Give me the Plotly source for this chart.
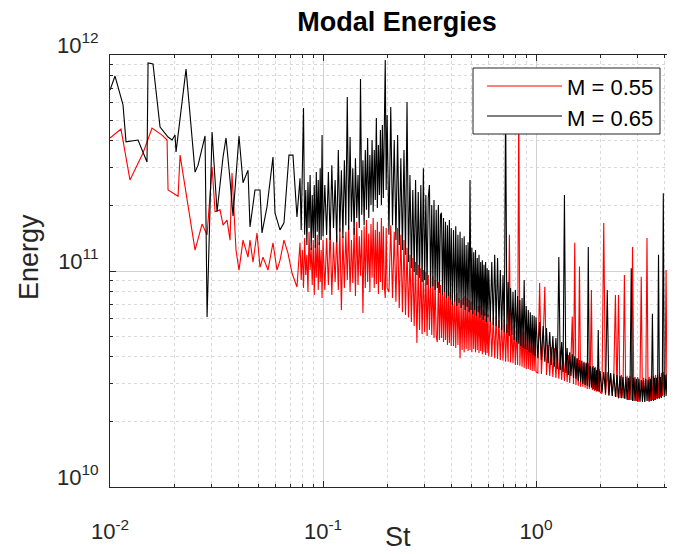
import plotly.graph_objects as go

# ---------------- data: St (Strouhal number) and modal energy in units of 1e10 ----------------
# low-frequency part, M = 0.55
st_low_055 = [0.01000, 0.01126, 0.01241, 0.01429, 0.01575, 0.01755, 0.01853, 0.01873, 0.02087, 0.02133,
              0.02508, 0.02705, 0.02856, 0.03014, 0.03114, 0.03286, 0.03394, 0.03543, 0.03661, 0.03739,
              0.03905, 0.04033, 0.04212, 0.04445, 0.04543, 0.04692, 0.04899, 0.05061, 0.05228, 0.05517,
              0.05823, 0.06081, 0.06282, 0.06559, 0.06848, 0.07152, 0.07547]
e_low_055 = [41.3, 45.4, 26.4, 35.2, 45.9, 42.6, 40.4, 23.7, 22.2, 34.4,
             12.5, 16.5, 14.7, 30.3, 18.8, 19.2, 16.3, 17.2, 13.9, 28.4,
             12.5, 10.1, 13.9, 11.6, 13.9, 11.0, 15.0, 10.4, 11.6, 10.1,
             13.5, 10.1, 11.2, 13.9, 12.1, 9.79, 8.43]

# low-frequency part, M = 0.65
st_low_065 = [0.01000, 0.01056, 0.01151, 0.01189, 0.01354, 0.01492, 0.01509, 0.01592, 0.01718, 0.01873,
              0.01956, 0.02020, 0.02042, 0.02275, 0.02508, 0.02591, 0.02794, 0.02856, 0.03014, 0.03182,
              0.03394, 0.03506, 0.03661, 0.03781, 0.04033, 0.04212, 0.04445, 0.04543, 0.04794, 0.05061,
              0.05171, 0.05458, 0.05823, 0.05950, 0.06282, 0.06559, 0.06922, 0.07228, 0.07547]
e_low_065 = [68.8, 79.9, 58.7, 39.6, 40.4, 31.96, 91.8, 90.9, 46.4, 41.7,
             40.4, 42.6, 35.6, 86.1, 28.7, 30.9, 42.2, 6.12, 44.0, 18.8,
             33.7, 41.3, 26.4, 18.0, 42.2, 25.6, 29.3, 16.0, 23.7, 23.7,
             15.0, 19.8, 33.7, 18.6, 15.5, 16.7, 34.4, 34.4, 17.8]

# dense part: St samples shared by both series, in seven blocks
st_a = [0.078, 0.079, 0.080, 0.081, 0.082, 0.083, 0.084, 0.085, 0.086, 0.087, 0.088, 0.089,
        0.090, 0.091, 0.092, 0.093, 0.094, 0.095, 0.096, 0.097, 0.098, 0.099, 0.100]
st_b = [0.102, 0.104, 0.106, 0.108, 0.110, 0.112, 0.114, 0.116, 0.118, 0.120,
        0.122, 0.124, 0.126, 0.128, 0.130, 0.132, 0.134, 0.136, 0.138, 0.140,
        0.142, 0.144, 0.146, 0.148, 0.150, 0.152, 0.154, 0.156, 0.158, 0.160,
        0.162, 0.164, 0.166, 0.168, 0.170, 0.172, 0.174, 0.176, 0.178, 0.180,
        0.182, 0.184, 0.186, 0.188, 0.190, 0.192, 0.194, 0.196, 0.198, 0.200]
st_c = [0.204, 0.208, 0.212, 0.216, 0.220, 0.224, 0.228, 0.232, 0.236, 0.240,
        0.244, 0.248, 0.252, 0.256, 0.260, 0.264, 0.268, 0.272, 0.276, 0.280,
        0.284, 0.288, 0.292, 0.296, 0.300, 0.304, 0.308, 0.312, 0.316, 0.320,
        0.324, 0.328, 0.332, 0.336, 0.340, 0.344, 0.348, 0.352, 0.356, 0.360,
        0.364, 0.368, 0.372, 0.376, 0.380, 0.384, 0.388, 0.392, 0.396, 0.400]
st_d = [0.405, 0.410, 0.415, 0.420, 0.425, 0.430, 0.435, 0.440, 0.445, 0.450,
        0.455, 0.460, 0.465, 0.470, 0.475, 0.480, 0.485, 0.490, 0.495, 0.500,
        0.505, 0.510, 0.515, 0.520, 0.525, 0.530, 0.535, 0.540, 0.545, 0.550,
        0.555, 0.560, 0.565, 0.570, 0.575, 0.580, 0.585, 0.590, 0.595, 0.600]
st_e = [0.61, 0.62, 0.63, 0.64, 0.65, 0.66, 0.67, 0.68, 0.69, 0.70,
        0.71, 0.72, 0.73, 0.74, 0.75, 0.76, 0.77, 0.78, 0.79, 0.80,
        0.81, 0.82, 0.83, 0.84, 0.85, 0.86, 0.87, 0.88, 0.89, 0.90,
        0.91, 0.92, 0.93, 0.94, 0.95, 0.96, 0.97, 0.98, 0.99, 1.00]
st_f = [1.02, 1.04, 1.06, 1.08, 1.10, 1.12, 1.14, 1.16, 1.18, 1.20,
        1.22, 1.24, 1.26, 1.28, 1.30, 1.32, 1.34, 1.36, 1.38, 1.40,
        1.42, 1.44, 1.46, 1.48, 1.50, 1.52, 1.54, 1.56, 1.58, 1.60,
        1.62, 1.64, 1.66, 1.68, 1.70, 1.72, 1.74, 1.76, 1.78, 1.80,
        1.82, 1.84, 1.86, 1.88, 1.90, 1.92, 1.94, 1.96, 1.98, 2.00]
st_g = [2.04, 2.08, 2.12, 2.16, 2.20, 2.24, 2.28, 2.32, 2.36, 2.40,
        2.44, 2.48, 2.52, 2.56, 2.60, 2.64, 2.68, 2.72, 2.76, 2.80,
        2.84, 2.88, 2.92, 2.96, 3.00, 3.04, 3.08, 3.12, 3.16, 3.20,
        3.24, 3.28, 3.32, 3.36, 3.40, 3.44, 3.48, 3.52, 3.56, 3.60,
        3.64, 3.68, 3.72, 3.76, 3.80, 3.84, 3.88, 3.92, 3.96, 4.00,
        4.04, 4.08, 4.12, 4.16, 4.20, 4.24, 4.28, 4.32, 4.36, 4.40,
        4.44, 4.48, 4.52, 4.56, 4.60]

# M = 0.55, dense blocks
e055_a = [13.5, 9.09, 12.5, 8.35, 14.2, 9.58, 11.9, 8.0, 15.2, 10.1,
          12.8, 8.61, 13.9, 7.74, 13.2, 9.3, 14.7, 8.17, 13.6, 8.9,
          12.5, 7.5, 13.9]
e055_b = [8.17, 14.2, 8.61, 15.5, 7.74, 13.6, 8.9, 14.7, 8.17, 15.8,
          6.6, 14.5, 8.35, 15.2, 9.09, 16.3, 8.0, 13.9, 8.8, 15.8,
          7.66, 16.9, 8.61, 14.5, 9.5, 15.5, 6.4, 16.1, 8.35, 17.2,
          8.9, 14.9, 8.0, 16.5, 9.3, 17.6, 8.35, 15.5, 8.7, 16.9,
          7.82, 15.2, 8.9, 17.6, 8.17, 16.1, 8.5, 7.5, 15.8, 8.35]
e055_c = [8.0, 16.3, 7.5, 15.2, 7.2, 15.8, 6.75, 14.7, 6.45, 13.9,
          6.26, 12.8, 6.1, 11.9, 5.8, 11.5, 5.56, 11.0, 4.64, 10.7,
          5.33, 10.3, 5.1, 10.1, 5.22, 9.9, 5.0, 9.58, 5.33, 9.3,
          5.05, 9.45, 4.9, 9.09, 5.0, 4.69, 8.9, 4.79, 8.61, 4.9,
          8.5, 4.69, 8.35, 4.79, 8.17, 4.54, 8.35, 4.64, 8.0, 4.5]
e055_d = [8.0, 4.5, 7.74, 4.4, 7.9, 4.54, 7.5, 3.95, 7.34, 4.31,
          7.5, 4.21, 7.66, 4.35, 7.5, 4.26, 7.34, 4.31, 7.2, 4.21,
          7.34, 4.35, 7.03, 4.21, 7.2, 4.31, 6.88, 4.17, 6.96, 4.26,
          6.75, 4.12, 6.6, 4.21, 6.45, 4.08, 6.52, 4.17, 6.3, 4.03]
e055_e = [6.26, 4.0, 6.1, 3.95, 6.2, 3.91, 5.93, 3.87, 5.8, 3.84,
          5.93, 3.80, 5.68, 3.80, 14.7, 3.77, 5.56, 3.74, 5.62, 3.67,
          5.45, 3.67, 61.9, 3.64, 5.33, 3.6, 5.22, 3.56, 5.27, 3.52,
          5.1, 3.52, 5.05, 3.48, 5.0, 3.44, 4.9, 3.44, 4.84, 3.41]
e055_f = [3.37, 8.8, 3.34, 4.69, 8.45, 3.30, 4.54, 3.27, 4.45, 3.23,
          4.4, 3.2, 4.31, 3.17, 4.26, 3.13, 4.17, 3.1, 4.12, 3.06,
          4.08, 3.03, 4.0, 6.15, 3.0, 13.5, 2.97, 3.91, 2.94, 10.5,
          2.91, 3.84, 2.91, 3.80, 2.88, 3.77, 2.84, 3.74, 2.84, 3.67,
          8.17, 2.81, 3.63, 2.78, 3.6, 2.76, 3.56, 2.76, 3.52, 2.75]
e055_g = [2.71, 16.7, 2.67, 3.41, 2.64, 3.37, 2.64, 3.34, 7.74, 2.61,
          7.74, 2.58, 3.30, 2.58, 9.58, 2.56, 3.27, 2.53, 3.27, 2.53,
          12.9, 2.5, 3.23, 2.5, 3.23, 2.48, 3.2, 9.4, 2.48, 3.2,
          2.48, 3.23, 14.2, 2.5, 3.23, 2.5, 3.27, 2.53, 3.27, 2.53,
          3.30, 2.56, 3.30, 2.58, 3.34, 2.61, 3.37, 2.64, 3.41, 2.67,
          3.41, 10.1, 2.71, 3.44, 2.75, 3.48, 2.76, 3.52, 2.78, 17.8,
          2.81, 3.56, 2.84, 3.6, 2.88]

# M = 0.65, dense blocks
e065_a = [26.9, 15.5, 29.3, 56.8, 14.7, 23.7, 13.2, 25.8, 15.8, 27.8,
          12.5, 22.5, 14.2, 25.0, 12.8, 28.7, 15.2, 26.4, 13.2, 29.9,
          13.9, 42.6, 14.5]
e065_b = [25.0, 14.7, 28.7, 13.9, 30.9, 15.8, 26.4, 13.6, 36.3, 15.2,
          29.3, 14.2, 32.6, 16.3, 63.9, 15.5, 41.7, 16.9, 29.9, 14.7,
          33.3, 17.6, 27.8, 15.8, 77.4, 18.2, 32.6, 16.3, 36.3, 19.2,
          41.3, 17.6, 34.4, 20.2, 40.4, 18.8, 36.3, 21.3, 51.1, 19.6,
          38.3, 22.5, 45.0, 20.2, 47.4, 21.8, 50.0, 94.8, 23.7, 52.7]
e065_c = [14.7, 57.4, 16.3, 40.4, 13.9, 42.6, 13.2, 33.3, 12.5, 36.3,
          11.9, 60.6, 11.0, 27.8, 10.3, 23.7, 9.9, 26.4, 9.58, 23.2,
          9.3, 25.0, 8.9, 29.9, 9.09, 22.5, 8.61, 21.8, 25.0, 8.35,
          20.2, 8.5, 21.3, 8.17, 19.2, 8.35, 20.2, 7.9, 18.2, 18.6,
          7.74, 17.6, 8.0, 16.9, 7.5, 16.3, 7.66, 17.2, 7.34, 15.8]
e065_d = [6.96, 15.5, 7.2, 16.1, 6.88, 14.7, 7.1, 15.2, 6.75, 14.2,
          6.96, 14.5, 6.60, 13.2, 6.82, 13.6, 6.45, 26.4, 6.60, 12.8,
          6.3, 12.2, 6.60, 12.5, 6.2, 11.5, 6.45, 11.9, 6.1, 11.0,
          6.26, 11.2, 5.93, 10.7, 6.2, 11.0, 5.8, 10.3, 6.1, 10.1]
e065_e = [5.8, 11.0, 5.62, 11.9, 5.56, 11.5, 5.45, 10.1, 5.33, 9.58,
          5.22, 61.9, 5.16, 8.9, 5.0, 8.35, 5.05, 8.0, 4.79, 8.17,
          4.69, 7.66, 4.6, 7.34, 4.5, 7.5, 4.4, 9.09, 4.35, 6.88,
          4.31, 6.60, 4.21, 6.45, 4.17, 6.26, 4.08, 6.2, 4.03, 6.1]
e065_f = [3.95, 5.8, 3.87, 5.56, 3.80, 5.45, 3.74, 5.22, 3.67, 5.0,
          3.6, 4.9, 3.52, 11.6, 3.48, 4.69, 3.41, 22.5, 3.37, 4.4,
          3.30, 4.21, 3.27, 4.12, 3.2, 4.03, 3.17, 3.95, 3.1, 3.87,
          3.06, 3.84, 3.0, 3.77, 2.97, 3.74, 2.94, 12.9, 2.91, 3.63,
          2.88, 3.6, 2.84, 3.56, 2.81, 3.48, 2.78, 5.33, 2.76, 3.44]
e065_g = [2.75, 3.41, 2.71, 8.17, 2.67, 3.37, 2.64, 3.34, 2.61, 3.30,
          2.58, 3.27, 2.58, 3.23, 2.56, 3.23, 2.53, 3.2, 2.53, 10.3,
          2.5, 3.2, 2.5, 3.17, 2.48, 3.17, 2.48, 3.13, 2.48, 3.13,
          2.48, 3.17, 2.5, 3.13, 2.48, 3.17, 2.5, 6.34, 2.5, 3.2,
          2.53, 3.2, 2.56, 11.9, 2.56, 3.23, 2.58, 3.27, 22.9, 2.61,
          3.30, 2.64, 3.34, 2.67, 3.37, 2.71, 3.41, 2.75, 3.44, 2.76,
          3.48, 2.81, 3.52, 2.84, 3.56]

series_names = ["M = 0.55", "M = 0.65"]
series_colors = ["#ff0000", "#000000"]

x_tick_vals = [0.01, 0.1, 1]
x_tick_text = ["10<sup>-2</sup>", "10<sup>-1</sup>", "10<sup>0</sup>"]
y_tick_vals = [1e10, 1e11, 1e12]
y_tick_text = ["10<sup>10</sup>", "10<sup>11</sup>", "10<sup>12</sup>"]
x_minor = [0.02, 0.03, 0.04, 0.05, 0.06, 0.07, 0.08, 0.09,
           0.2, 0.3, 0.4, 0.5, 0.6, 0.7, 0.8, 0.9, 2, 3, 4]
y_minor = [2e10, 3e10, 4e10, 5e10, 6e10, 7e10, 8e10, 9e10,
           2e11, 3e11, 4e11, 5e11, 6e11, 7e11, 8e11, 9e11]

# ---------------- assemble ----------------
UNIT = 1e10
st_high = st_a + st_b + st_c + st_d + st_e + st_f + st_g
e055_high = e055_a + e055_b + e055_c + e055_d + e055_e + e055_f + e055_g
e065_high = e065_a + e065_b + e065_c + e065_d + e065_e + e065_f + e065_g
assert len(st_low_055) == len(e_low_055) and len(st_low_065) == len(e_low_065)
for s, a, b in [(st_a, e055_a, e065_a), (st_b, e055_b, e065_b), (st_c, e055_c, e065_c),
                (st_d, e055_d, e065_d), (st_e, e055_e, e065_e), (st_f, e055_f, e065_f),
                (st_g, e055_g, e065_g)]:
    assert len(s) == len(a) == len(b), (len(s), len(a), len(b))

st_055 = st_low_055 + st_high
en_055 = [v * UNIT for v in e_low_055 + e055_high]
st_065 = st_low_065 + st_high
en_065 = [v * UNIT for v in e_low_065 + e065_high]

FONT = "Liberation Sans, Arial, Helvetica, sans-serif"
AXC = "#262626"

# The page body adds an 8 px margin, so the figure is 8 px smaller than the window.
W, H = 667, 546

fig = go.Figure()
fig.add_trace(go.Scatter(x=st_055, y=en_055, mode="lines", name=series_names[0],
                         line=dict(color=series_colors[0], width=1.1)))
fig.add_trace(go.Scatter(x=st_065, y=en_065, mode="lines", name=series_names[1],
                         line=dict(color=series_colors[1], width=1.1)))

fig.update_layout(
    width=W, height=H,
    margin=dict(l=102, r=0, t=47, b=67),
    paper_bgcolor="white", plot_bgcolor="white",
    showlegend=False,
    font=dict(family=FONT, color=AXC),
    title=dict(text="<b>Modal Energies</b>", x=389 / W, xanchor="center",
               y=1 - 14 / H, yanchor="middle", xref="container", yref="container",
               font=dict(size=27, color="#000000", family=FONT)),
)

fig.update_xaxes(
    type="log", range=[-2, 0.6526], automargin=False,
    tickmode="array", tickvals=x_tick_vals, ticktext=x_tick_text,
    ticks="inside", ticklen=6, tickcolor=AXC,
    showline=True, linecolor=AXC, linewidth=1, mirror="allticks",
    showgrid=True, gridcolor="#d2d2d2", gridwidth=1,
    tickfont=dict(size=22, color=AXC),
    ticklabelstandoff=25,
    minor=dict(tickmode="array", tickvals=x_minor, ticks="inside", ticklen=3,
               tickcolor=AXC, showgrid=True, gridcolor="#d9d9d9", griddash="dot"),
    zeroline=False,
)
fig.update_yaxes(
    type="log", range=[10, 12], automargin=False,
    tickmode="array", tickvals=y_tick_vals, ticktext=y_tick_text,
    ticks="inside", ticklen=6, tickcolor=AXC,
    showline=True, linecolor=AXC, linewidth=1, mirror=False,
    showgrid=True, gridcolor="#d2d2d2", gridwidth=1,
    tickfont=dict(size=22, color=AXC),
    ticklabelstandoff=6, ticklabelshift=-10,
    minor=dict(tickmode="array", tickvals=y_minor, ticks="inside", ticklen=3,
               tickcolor=AXC, showgrid=True, gridcolor="#d9d9d9", griddash="dot"),
    zeroline=False,
)

# positions below are given in window pixels (plot area spans x 110..675, y 55..487)
def dx(px):
    return (px - 110) / 565

def dy(py):
    return (487 - py) / 432

# axis titles
fig.add_annotation(text="St", xref="paper", yref="paper", x=dx(398), y=dy(537),
                   showarrow=False, xanchor="center", yanchor="middle",
                   font=dict(size=27, color=AXC, family=FONT))
fig.add_annotation(text="Energy", xref="paper", yref="paper", x=dx(29), y=dy(257),
                   showarrow=False, xanchor="center", yanchor="middle", textangle=-90,
                   font=dict(size=27, color=AXC, family=FONT))

# inset legend box, drawn like the original
fig.add_shape(type="rect", xref="x domain", yref="y domain",
              x0=dx(473), x1=dx(660), y0=dy(134), y1=dy(68),
              line=dict(color=AXC, width=1), fillcolor="white", layer="above")
for i, py in enumerate([86, 116]):
    fig.add_shape(type="line", xref="x domain", yref="y domain",
                  x0=dx(487), x1=dx(562), y0=dy(py), y1=dy(py),
                  line=dict(color=series_colors[i], width=1.2), layer="above")
    fig.add_annotation(text=series_names[i], xref="x domain", yref="y domain",
                       x=dx(565), y=dy(py + 2), xanchor="left", yanchor="middle",
                       showarrow=False, font=dict(size=22, color="#000000", family=FONT))

fig.write_html("out.html")
